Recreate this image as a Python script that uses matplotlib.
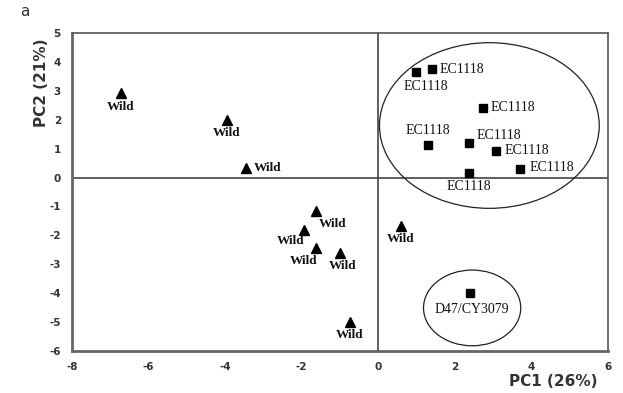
import matplotlib
matplotlib.use('Agg')
import matplotlib.pyplot as plt
from matplotlib.patches import Ellipse

plt.rcParams['axes.unicode_minus'] = False

# PCA scores
wild_pc1 = [-6.72, -3.95, -3.45, -1.62, -1.93, -1.63, -1.01, -0.75, 0.59]
wild_pc2 = [2.92, 1.99, 0.32, -1.16, -1.82, -2.45, -2.60, -4.99, -1.67]

ec_pc1 = [0.99, 1.40, 2.73, 1.29, 2.36, 3.07, 3.71, 2.36]
ec_pc2 = [3.64, 3.74, 2.42, 1.11, 1.18, 0.92, 0.29, 0.15]

d47_pc1 = [2.40]
d47_pc2 = [-3.99]

# ellipses: (center x, center y, width, height)
ec_group = (2.90, 1.80, 5.74, 5.73)
d47_group = (2.45, -4.51, 2.54, 2.62)

# label placement (pixels from marker, alignment)
wild_offsets = [(0, -14, 'center'), (0, -13, 'center'), (8, 0, 'left'),
                (16, -13, 'center'), (-14, -11, 'center'), (-12, -13, 'center'),
                (3, -13, 'center'), (0, -13, 'center'), (0, -13, 'center')]
ec_offsets = [(10, -14, 'center'), (8, 0, 'left'), (8, 0, 'left'),
              (0, 15, 'center'), (8, 8, 'left'), (9, 0, 'left'),
              (9, 2, 'left'), (0, -13, 'center')]

fig = plt.figure(figsize=(6.23, 3.93), dpi=100)
ax = fig.add_axes([0.1156, 0.1069, 0.8604, 0.8091])

ax.axhline(0, color='#444444', lw=1.2, zorder=1)
ax.axvline(0, color='#444444', lw=1.2, zorder=1)

ax.plot(wild_pc1, wild_pc2, '^', color='black', markersize=6.5, zorder=3)
ax.plot(ec_pc1, ec_pc2, 's', color='black', markersize=6, zorder=3)
ax.plot(d47_pc1, d47_pc2, 's', color='black', markersize=6, zorder=3)

for (cx, cy, w, h) in [ec_group, d47_group]:
    ax.add_patch(Ellipse((cx, cy), w, h, fill=False, edgecolor='#222222', lw=0.9, zorder=2))

for x, y, (dx, dy, ha) in zip(wild_pc1, wild_pc2, wild_offsets):
    ax.annotate('Wild', (x, y), xytext=(dx, dy), textcoords='offset pixels',
                ha=ha, va='center', fontsize=9.5, fontweight='bold',
                family='Liberation Serif', color='#111111')

for x, y, (dx, dy, ha) in zip(ec_pc1, ec_pc2, ec_offsets):
    ax.annotate('EC1118', (x, y), xytext=(dx, dy), textcoords='offset pixels',
                ha=ha, va='center', fontsize=10, family='Liberation Serif', color='#111111')

ax.annotate('D47/CY3079', (d47_pc1[0], d47_pc2[0]), xytext=(2, -17), textcoords='offset pixels',
            ha='center', va='center', fontsize=10, family='Liberation Serif', color='#111111')

ax.set_xlim(-8, 6)
ax.set_ylim(-6, 5)
ax.set_xticks(range(-8, 7, 2))
ax.set_yticks(range(-6, 6, 1))
ax.tick_params(length=0, labelsize=7.5, labelcolor='#333333', pad=8)
for lab in ax.get_xticklabels() + ax.get_yticklabels():
    lab.set_fontweight('bold')

for side in ['left', 'bottom']:
    ax.spines[side].set_color('#666666')
    ax.spines[side].set_linewidth(2)
for side in ['top', 'right']:
    ax.spines[side].set_color('#555555')
    ax.spines[side].set_linewidth(1.2)

fig.text(0.888, 0.03, 'PC1 (26%)', ha='center', va='center', fontsize=11,
         fontweight='bold', color='#333333')
fig.text(0.067, 0.79, 'PC2 (21%)', ha='center', va='center', rotation=90,
         fontsize=11, fontweight='bold', color='#333333')
fig.text(0.04, 0.97, 'a', ha='center', va='center', fontsize=11, color='#333333')

fig.savefig('out.png', dpi=100)
